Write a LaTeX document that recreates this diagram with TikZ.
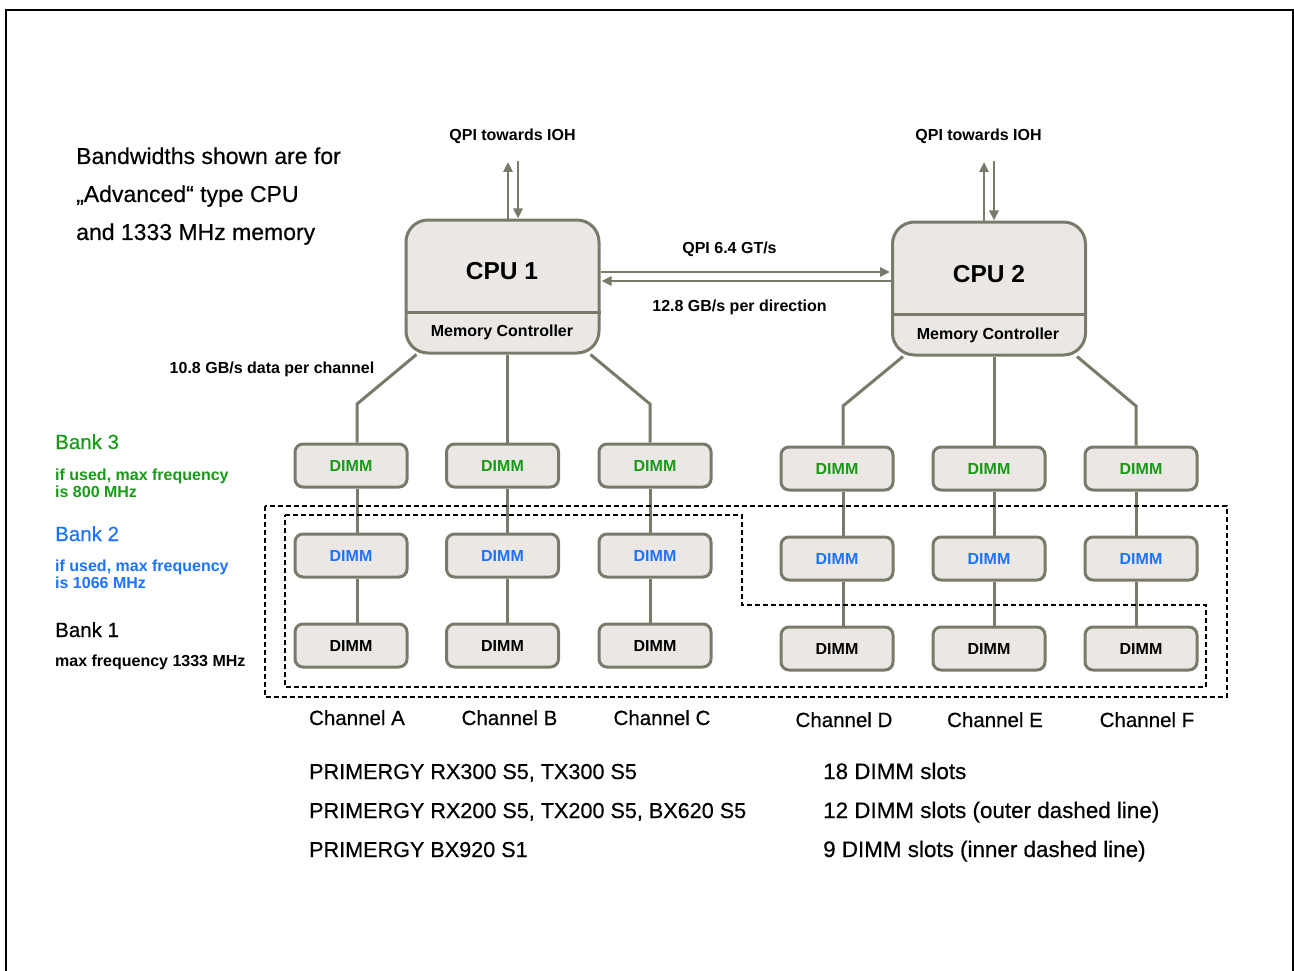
\documentclass[tikz,border=0pt]{standalone}
\usepackage{fontspec}
\setmainfont{Liberation Sans}
\newfontface\heavyface[FakeBold=0.45]{Liberation Sans}
\usetikzlibrary{arrows.meta,backgrounds}

\definecolor{boxedge}{RGB}{122,122,106}
\definecolor{boxfill}{RGB}{234,231,228}
\definecolor{bankgreen}{RGB}{22,155,22}
\definecolor{bankblue}{RGB}{28,115,255}

\newcommand\smallbold{\fontsize{16}{19}\bfseries\selectfont}
\newcommand\cpufont{\fontsize{24.5}{28}\bfseries\selectfont}
\newcommand\notefont{\heavyface\fontsize{23}{27}\selectfont}
\newcommand\bankfont{\heavyface\fontsize{20.5}{24}\selectfont}
\newcommand\serverfont{\heavyface\fontsize{21.6}{26}\selectfont}
\newcommand\slotfont{\heavyface\fontsize{22.4}{26}\selectfont}

\tikzset{
  cpubox/.style={draw=boxedge, fill=boxfill, line width=3pt, rounded corners=22pt,
    minimum width=193pt, minimum height=133pt, inner sep=0pt},
  dimmbox/.style={draw=boxedge, fill=boxfill, line width=3pt, rounded corners=8pt,
    minimum width=112pt, minimum height=43pt, inner sep=0pt, font=\smallbold},
  link/.style={draw=boxedge, line width=3pt},
  qpi/.style={draw=boxedge, line width=2.5pt, -{Triangle[length=10pt,width=9pt]}},
  slotline/.style={draw=black, line width=1.3pt, dash pattern=on 5pt off 3pt},
  frame/.style={draw=black, line width=2.2pt},
  txt/.style={inner sep=0pt, anchor=base},
  txtl/.style={inner sep=0pt, anchor=base west},
}

\begin{document}
\begin{tikzpicture}[x=1pt,y=-1pt]
\useasboundingbox (0,0) rectangle (1294,971);
\draw[frame] (6,985) -- (6,10) -- (1293,10) -- (1293,985);

% processors
\node[cpubox] (cpu1) at (502.5,286.5) {};
\node[cpubox] (cpu2) at (989,288.5) {};
\draw[link] ([yshift=42pt]cpu1.south west) -- ([yshift=42pt]cpu1.south east);
\draw[link] ([yshift=42pt]cpu2.south west) -- ([yshift=42pt]cpu2.south east);
\node[inner sep=0pt, font=\cpufont] (cpu1t) at (502,271) {CPU 1};
\node[inner sep=0pt, font=\cpufont] (cpu2t) at (989,274) {CPU 2};
\node[txt, font=\smallbold] (mc1) at (502,336) {Memory Controller};
\node[txt, font=\smallbold] (mc2) at (988,339) {Memory Controller};

% QPI links towards the IOH
\node[txt, font=\smallbold] (ioh1) at (512.5,141) {QPI towards IOH};
\node[txt, font=\smallbold] (ioh2) at (978.5,141) {QPI towards IOH};
\coordinate (up1) at (508,162);
\coordinate (dn1) at (518,161);
\coordinate (up2) at (984,162);
\coordinate (dn2) at (994,161);
\draw[qpi] (cpu1.north -| up1) -- (up1);
\draw[qpi] (dn1) -- (dn1 |- cpu1.north);
\draw[qpi] (cpu2.north -| up2) -- (up2);
\draw[qpi] (dn2) -- (dn2 |- cpu2.north);

% QPI link between the processors
\coordinate (qa) at (0,272);
\coordinate (qb) at (0,281);
\draw[qpi] (cpu1.east |- qa) -- ([xshift=-1pt]cpu2.west |- qa);
\draw[qpi] (cpu2.west |- qb) -- ([xshift=1pt]cpu1.east |- qb);
\node[txt, font=\smallbold] (qpispeed) at (729.5,253) {QPI 6.4 GT/s};
\node[txt, font=\smallbold] (qpibw) at (739.5,311) {12.8 GB/s per direction};

% explanatory notes
\node[txtl, font=\notefont] (n1) at (76,164) {Bandwidths shown are for};
\node[txtl, font=\notefont] (n2) at (76,202) {„Advanced“ type CPU};
\node[txtl, font=\notefont] (n3) at (76,240) {and 1333 MHz memory};
\node[txt, font=\smallbold] (chbw) at (272,373) {10.8 GB/s data per channel};

% banks
\node[txtl, font=\bankfont, text=bankgreen] (bank3) at (55,449) {Bank 3};
\node[txtl, font=\smallbold, text=bankgreen] (bank3a) at (55,480) {if used, max frequency};
\node[txtl, font=\smallbold, text=bankgreen] (bank3b) at (55,497) {is 800 MHz};
\node[txtl, font=\bankfont, text=bankblue] (bank2) at (55,541) {Bank 2};
\node[txtl, font=\smallbold, text=bankblue] (bank2a) at (55,571) {if used, max frequency};
\node[txtl, font=\smallbold, text=bankblue] (bank2b) at (55,588) {is 1066 MHz};
\node[txtl, font=\bankfont] (bank1) at (55,637) {Bank 1};
\node[txtl, font=\smallbold] (bank1a) at (55,666) {max frequency 1333 MHz};

% DIMM slots
\foreach \ch/\x/\y in {A/351/465.5, B/502.5/465.5, C/655/465.5, D/837/468.5, E/989/468.5, F/1141/468.5}{
  \node[dimmbox, text=bankgreen] (d\ch3) at (\x,\y) {DIMM};
  \node[dimmbox, text=bankblue] (d\ch2) at (\x,\y+90) {DIMM};
  \node[dimmbox, text=black] (d\ch1) at (\x,\y+180) {DIMM};
}

% memory channels
\coordinate (kA) at (357,404);
\coordinate (kB) at (507,404);
\coordinate (kC) at (650,404);
\coordinate (kD) at (843,406);
\coordinate (kE) at (994,406);
\coordinate (kF) at (1136,406);
\begin{scope}[on background layer]
  \draw[link] ([xshift=12pt]cpu1.south west) -- (kA) -- (dA3.north -| kA);
  \draw[link] (cpu1.south -| kB) -- (dB3.north -| kB);
  \draw[link] ([xshift=-10pt]cpu1.south east) -- (kC) -- (dC3.north -| kC);
  \draw[link] ([xshift=12pt]cpu2.south west) -- (kD) -- (dD3.north -| kD);
  \draw[link] (cpu2.south -| kE) -- (dE3.north -| kE);
  \draw[link] ([xshift=-10pt]cpu2.south east) -- (kF) -- (dF3.north -| kF);
  \foreach \ch in {A,B,C,D,E,F}{
    \draw[link] (d\ch3.south -| k\ch) -- (d\ch2.north -| k\ch);
    \draw[link] (d\ch2.south -| k\ch) -- (d\ch1.north -| k\ch);
  }
\end{scope}

% slot groupings
\draw[slotline] (265,506) rectangle (1227,697);
\draw[slotline] (285,515) -- (742,515) -- (742,605) -- (1206,605) -- (1206,687) -- (285,687) -- cycle;

% channel names
\node[txt, font=\bankfont] (cA) at (357,725) {Channel A};
\node[txt, font=\bankfont] (cB) at (509.5,725) {Channel B};
\node[txt, font=\bankfont] (cC) at (662,725) {Channel C};
\node[txt, font=\bankfont] (cD) at (844,727) {Channel D};
\node[txt, font=\bankfont] (cE) at (995,727) {Channel E};
\node[txt, font=\bankfont] (cF) at (1147,727) {Channel F};

% server models and slot counts
\node[txtl, font=\serverfont] (s1) at (309,779) {PRIMERGY RX300 S5, TX300 S5};
\node[txtl, font=\serverfont] (s2) at (309,818) {PRIMERGY RX200 S5, TX200 S5, BX620 S5};
\node[txtl, font=\serverfont] (s3) at (309,857) {PRIMERGY BX920 S1};
\node[txtl, font=\slotfont] (m1) at (823,779) {18 DIMM slots};
\node[txtl, font=\slotfont] (m2) at (823,818) {12 DIMM slots (outer dashed line)};
\node[txtl, font=\slotfont] (m3) at (823,857) {9 DIMM slots (inner dashed line)};
\end{tikzpicture}
\end{document}
